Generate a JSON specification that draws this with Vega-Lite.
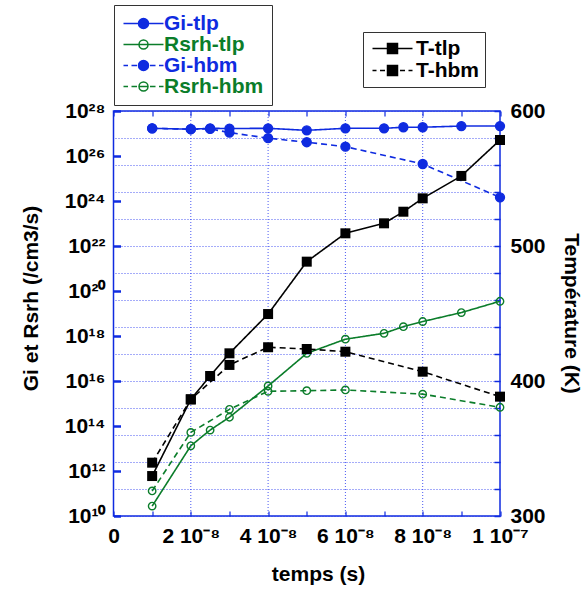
{
  "$schema": "https://vega.github.io/schema/vega-lite/v6.json",
  "width": 386.5,
  "height": 405,
  "autosize": "none",
  "padding": {"left": 113.5, "top": 111, "right": 83, "bottom": 76},
  "background": "white",
  "datasets": {
    "timegrid": [{"gx": 2e-8}, {"gx": 4e-8}, {"gx": 6e-8}, {"gx": 8e-8}],
    "rates": [
      {"t": 1e-8, "series": "Gi-tlp", "quantity": "Gi", "model": "tlp", "value": 1.7e27},
      {"t": 2e-8, "series": "Gi-tlp", "quantity": "Gi", "model": "tlp", "value": 1.55e27},
      {"t": 2.5e-8, "series": "Gi-tlp", "quantity": "Gi", "model": "tlp", "value": 1.7e27},
      {"t": 3e-8, "series": "Gi-tlp", "quantity": "Gi", "model": "tlp", "value": 1.66e27},
      {"t": 4e-8, "series": "Gi-tlp", "quantity": "Gi", "model": "tlp", "value": 1.7e27},
      {"t": 5e-8, "series": "Gi-tlp", "quantity": "Gi", "model": "tlp", "value": 1.38e27},
      {"t": 6e-8, "series": "Gi-tlp", "quantity": "Gi", "model": "tlp", "value": 1.7e27},
      {"t": 7e-8, "series": "Gi-tlp", "quantity": "Gi", "model": "tlp", "value": 1.7e27},
      {"t": 7.5e-8, "series": "Gi-tlp", "quantity": "Gi", "model": "tlp", "value": 1.9e27},
      {"t": 8e-8, "series": "Gi-tlp", "quantity": "Gi", "model": "tlp", "value": 1.9e27},
      {"t": 9e-8, "series": "Gi-tlp", "quantity": "Gi", "model": "tlp", "value": 2.14e27},
      {"t": 1e-7, "series": "Gi-tlp", "quantity": "Gi", "model": "tlp", "value": 2.14e27},
      {"t": 1e-8, "series": "Rsrh-tlp", "quantity": "Rsrh", "model": "tlp", "value": 2.75e10},
      {"t": 2e-8, "series": "Rsrh-tlp", "quantity": "Rsrh", "model": "tlp", "value": 1.32e13},
      {"t": 2.5e-8, "series": "Rsrh-tlp", "quantity": "Rsrh", "model": "tlp", "value": 6.6e13},
      {"t": 3e-8, "series": "Rsrh-tlp", "quantity": "Rsrh", "model": "tlp", "value": 2.45e14},
      {"t": 4e-8, "series": "Rsrh-tlp", "quantity": "Rsrh", "model": "tlp", "value": 6.0e15},
      {"t": 5e-8, "series": "Rsrh-tlp", "quantity": "Rsrh", "model": "tlp", "value": 1.7e17},
      {"t": 6e-8, "series": "Rsrh-tlp", "quantity": "Rsrh", "model": "tlp", "value": 7.2e17},
      {"t": 7e-8, "series": "Rsrh-tlp", "quantity": "Rsrh", "model": "tlp", "value": 1.32e18},
      {"t": 7.5e-8, "series": "Rsrh-tlp", "quantity": "Rsrh", "model": "tlp", "value": 2.6e18},
      {"t": 8e-8, "series": "Rsrh-tlp", "quantity": "Rsrh", "model": "tlp", "value": 4.4e18},
      {"t": 9e-8, "series": "Rsrh-tlp", "quantity": "Rsrh", "model": "tlp", "value": 1.1e19},
      {"t": 1e-7, "series": "Rsrh-tlp", "quantity": "Rsrh", "model": "tlp", "value": 3.5e19},
      {"t": 1e-8, "series": "Gi-hbm", "quantity": "Gi", "model": "hbm", "value": 1.7e27},
      {"t": 2e-8, "series": "Gi-hbm", "quantity": "Gi", "model": "hbm", "value": 1.55e27},
      {"t": 2.5e-8, "series": "Gi-hbm", "quantity": "Gi", "model": "hbm", "value": 1.6e27},
      {"t": 3e-8, "series": "Gi-hbm", "quantity": "Gi", "model": "hbm", "value": 1.1e27},
      {"t": 4e-8, "series": "Gi-hbm", "quantity": "Gi", "model": "hbm", "value": 6.2e26},
      {"t": 5e-8, "series": "Gi-hbm", "quantity": "Gi", "model": "hbm", "value": 4.1e26},
      {"t": 6e-8, "series": "Gi-hbm", "quantity": "Gi", "model": "hbm", "value": 2.6e26},
      {"t": 8e-8, "series": "Gi-hbm", "quantity": "Gi", "model": "hbm", "value": 4.4e25},
      {"t": 1e-7, "series": "Gi-hbm", "quantity": "Gi", "model": "hbm", "value": 1.45e24},
      {"t": 1e-8, "series": "Rsrh-hbm", "quantity": "Rsrh", "model": "hbm", "value": 1.3e11},
      {"t": 2e-8, "series": "Rsrh-hbm", "quantity": "Rsrh", "model": "hbm", "value": 5.2e13},
      {"t": 3e-8, "series": "Rsrh-hbm", "quantity": "Rsrh", "model": "hbm", "value": 5.5e14},
      {"t": 4e-8, "series": "Rsrh-hbm", "quantity": "Rsrh", "model": "hbm", "value": 3.5e15},
      {"t": 5e-8, "series": "Rsrh-hbm", "quantity": "Rsrh", "model": "hbm", "value": 3.7e15},
      {"t": 6e-8, "series": "Rsrh-hbm", "quantity": "Rsrh", "model": "hbm", "value": 4.0e15},
      {"t": 8e-8, "series": "Rsrh-hbm", "quantity": "Rsrh", "model": "hbm", "value": 2.6e15},
      {"t": 1e-7, "series": "Rsrh-hbm", "quantity": "Rsrh", "model": "hbm", "value": 6.8e14}
    ],
    "temps": [
      {"t": 1e-8, "series": "T-tlp", "model": "tlp", "temp": 329.6},
      {"t": 2e-8, "series": "T-tlp", "model": "tlp", "temp": 386.4},
      {"t": 2.5e-8, "series": "T-tlp", "model": "tlp", "temp": 403.7},
      {"t": 3e-8, "series": "T-tlp", "model": "tlp", "temp": 420.5},
      {"t": 4e-8, "series": "T-tlp", "model": "tlp", "temp": 449.6},
      {"t": 5e-8, "series": "T-tlp", "model": "tlp", "temp": 488.4},
      {"t": 6e-8, "series": "T-tlp", "model": "tlp", "temp": 509.4},
      {"t": 7e-8, "series": "T-tlp", "model": "tlp", "temp": 516.8},
      {"t": 7.5e-8, "series": "T-tlp", "model": "tlp", "temp": 525.4},
      {"t": 8e-8, "series": "T-tlp", "model": "tlp", "temp": 535.3},
      {"t": 9e-8, "series": "T-tlp", "model": "tlp", "temp": 551.9},
      {"t": 1e-7, "series": "T-tlp", "model": "tlp", "temp": 578.5},
      {"t": 1e-8, "series": "T-hbm", "model": "hbm", "temp": 339.5},
      {"t": 2e-8, "series": "T-hbm", "model": "hbm", "temp": 386.4},
      {"t": 3e-8, "series": "T-hbm", "model": "hbm", "temp": 411.9},
      {"t": 4e-8, "series": "T-hbm", "model": "hbm", "temp": 425.0},
      {"t": 5e-8, "series": "T-hbm", "model": "hbm", "temp": 423.7},
      {"t": 6e-8, "series": "T-hbm", "model": "hbm", "temp": 421.7},
      {"t": 8e-8, "series": "T-hbm", "model": "hbm", "temp": 406.9},
      {"t": 1e-7, "series": "T-hbm", "model": "hbm", "temp": 388.4}
    ]
  },
  "layer": [
    {
      "data": {"name": "timegrid"},
      "mark": {"type": "rule", "color": "#2a3cf0", "strokeDash": [1, 2], "strokeWidth": 1, "opacity": 0.85},
      "encoding": {
        "x": {"field": "gx", "type": "quantitative", "axis": null}
      }
    },
    {
      "data": {"name": "rates"},
      "encoding": {
        "x": {
          "field": "t", "type": "quantitative",
          "scale": {"domain": [0, 1e-7], "nice": false, "zero": false},
          "axis": {
            "orient": "bottom",
            "title": "temps (s)",
            "titleX": 204.5, "titleY": 63, "titleAlign": "center", "titleBaseline": "middle", "titleAngle": 0,
            "tickValues": [0, 5e-9, 1e-8, 1.5e-8, 2e-8, 2.5e-8, 3e-8, 3.5e-8, 4e-8, 4.5e-8, 5e-8, 5.5e-8, 6e-8, 6.5e-8, 7e-8, 7.5e-8, 8e-8, 8.5e-8, 9e-8, 9.5e-8, 1e-7],
            "labelExpr": "abs(datum.value*5e7 - round(datum.value*5e7)) < 0.001 ? (round(datum.value*1e9) == 0 ? '0' : round(datum.value*1e9) == 100 ? '1 10⁻⁷' : round(datum.value*1e8) + ' 10⁻⁸') : ''",
            "grid": false,
            "offset": -5,
            "tickSize": 5,
            "tickWidth": 1.2,
            "labelPadding": 9
          }
        },
        "y": {
          "field": "value", "type": "quantitative",
          "scale": {"type": "log", "domain": [1e10, 1e28], "nice": false},
          "axis": {
            "orient": "left",
            "title": "Gi et Rsrh (/cm3/s)",
            "titleX": -89, "titleY": 187, "titleAlign": "center", "titleBaseline": "middle", "titleAngle": -90,
            "tickValues": [1e10,1e11,1e12,1e13,1e14,1e15,1e16,1e17,1e18,1e19,1e20,1e21,1e22,1e23,1e24,1e25,1e26,1e27,1e28],
            "labelExpr": "round(log(datum.value)/LN10) % 2 == 0 ? '10' + ['⁰','¹','²','³','⁴','⁵','⁶','⁷','⁸','⁹'][floor(round(log(datum.value)/LN10)/10)] + ['⁰','¹','²','³','⁴','⁵','⁶','⁷','⁸','⁹'][round(log(datum.value)/LN10) % 10] : ''",
            "grid": false,
            "offset": -7,
            "tickSize": 7,
            "tickWidth": 2.5,
            "labelPadding": 8.5
          }
        },
        "color": {
          "field": "series", "type": "nominal",
          "scale": {"domain": ["Gi-tlp", "Rsrh-tlp", "Gi-hbm", "Rsrh-hbm"], "range": ["#0f2be0", "#0b7d2a", "#0f2be0", "#0b7d2a"]},
          "legend": {
            "title": null,
            "orient": "none",
            "legendX": 0.5,
            "legendY": -106,
            "symbolSize": 100,
            "symbolStrokeWidth": 1.5,
            "symbolOffset": 11,
            "labelOffset": 10,
            "rowPadding": -2,
            "padding": 8,
            "strokeColor": "#333333",
            "fillColor": "white",
            "labelFont": "Liberation Sans",
            "labelFontSize": 21,
            "labelFontWeight": "bold",
            "encode": {
              "symbols": {
                "update": {
                  "shape": {"signal": "datum.value == 'Gi-tlp' ? 'M-4,0H4M1,0A1,1,0,1,1,-1,0A1,1,0,1,1,1,0Z' : datum.value == 'Rsrh-tlp' ? 'M-4,0H4M0.9,0A0.9,0.9,0,1,1,-0.9,0A0.9,0.9,0,1,1,0.9,0Z' : datum.value == 'Gi-hbm' ? 'M-4,0H-3.1M-2.4,0H-1.3M1.3,0H2.4M3.1,0H4M1,0A1,1,0,1,1,-1,0A1,1,0,1,1,1,0Z' : 'M-4,0H-3.1M-2.4,0H-1.3M1.3,0H2.4M3.1,0H4M-0.9,0H0.9M0.9,0A0.9,0.9,0,1,1,-0.9,0A0.9,0.9,0,1,1,0.9,0Z'"},
                  "fill": {"signal": "indexof(datum.value, 'Gi') == 0 ? '#0f2be0' : 'transparent'"},
                  "stroke": {"signal": "indexof(datum.value, 'Gi') == 0 ? '#0f2be0' : '#0b7d2a'"},
                  "strokeWidth": {"value": 1.5},
                  "opacity": {"value": 1}
                }
              },
              "labels": {
                "update": {
                  "fill": {"signal": "indexof(datum.value, 'Gi') == 0 ? '#0f2be0' : '#0b7d2a'"}
                }
              }
            }
          }
        }
      },
      "layer": [
        {
          "mark": {"type": "line", "strokeWidth": 1.6},
          "encoding": {
            "strokeDash": {"field": "model", "type": "nominal", "scale": {"domain": ["tlp", "hbm"], "range": [[1, 0], [6, 4]]}, "legend": null}
          }
        },
        {
          "mark": {"type": "point", "shape": "circle", "filled": false, "strokeWidth": 1.4, "opacity": 1},
          "encoding": {
            "fill": {"field": "quantity", "type": "nominal", "scale": {"domain": ["Gi", "Rsrh"], "range": ["#0f2be0", "transparent"]}, "legend": null},
            "size": {"field": "quantity", "type": "nominal", "scale": {"domain": ["Gi", "Rsrh"], "range": [80, 55]}, "legend": null}
          }
        }
      ]
    },
    {
      "data": {"name": "temps"},
      "encoding": {
        "x": {
          "field": "t", "type": "quantitative",
          "axis": {
            "orient": "top",
            "title": null,
            "labels": false,
            "grid": false,
            "tickValues": [0, 5e-9, 1e-8, 1.5e-8, 2e-8, 2.5e-8, 3e-8, 3.5e-8, 4e-8, 4.5e-8, 5e-8, 5.5e-8, 6e-8, 6.5e-8, 7e-8, 7.5e-8, 8e-8, 8.5e-8, 9e-8, 9.5e-8, 1e-7],
            "offset": -5,
            "tickSize": 5,
            "tickWidth": 1.2
          }
        },
        "y": {
          "field": "temp", "type": "quantitative",
          "scale": {"domain": [300, 600], "nice": false, "zero": false},
          "axis": {
            "orient": "right",
            "title": "Température (K)",
            "titleX": 76, "titleY": 202, "titleAlign": "center", "titleBaseline": "middle", "titleAngle": 90,
            "grid": true,
            "gridColor": "#2a3cf0",
            "gridDash": [1, 2],
            "gridWidth": 1,
            "gridOpacity": 0.85,
            "tickValues": [300, 316.6667, 333.3333, 350, 366.6667, 383.3333, 400, 416.6667, 433.3333, 450, 466.6667, 483.3333, 500, 516.6667, 533.3333, 550, 566.6667, 583.3333, 600],
            "labelExpr": "abs(datum.value/50 - round(datum.value/50)) < 0.001 ? format(round(datum.value), 'd') : ''",
            "offset": -6,
            "tickSize": 6,
            "tickWidth": 1.5,
            "labelPadding": 10
          }
        },
        "color": {
          "field": "series", "type": "nominal",
          "scale": {"domain": ["T-tlp", "T-hbm"], "range": ["black", "black"]},
          "legend": {
            "title": null,
            "orient": "none",
            "legendX": 249.5,
            "legendY": -79,
            "symbolSize": 100,
            "symbolStrokeWidth": 1.5,
            "symbolOffset": 13,
            "labelOffset": 13,
            "rowPadding": 0,
            "padding": 6,
            "strokeColor": "#333333",
            "fillColor": "white",
            "labelFont": "Liberation Sans",
            "labelFontSize": 21,
            "labelFontWeight": "bold",
            "labelColor": "black",
            "encode": {
              "symbols": {
                "update": {
                  "shape": {"signal": "datum.value == 'T-tlp' ? 'M-4,0H4M-1,-1H1V1H-1Z' : 'M-4,0H-3.2M-2.5,0H-1.5M1.5,0H2.5M3.2,0H4M-1,-1H1V1H-1Z'"},
                  "fill": {"value": "black"},
                  "stroke": {"value": "black"},
                  "strokeWidth": {"value": 1.5},
                  "opacity": {"value": 1}
                }
              }
            }
          }
        }
      },
      "layer": [
        {
          "mark": {"type": "line", "strokeWidth": 1.6},
          "encoding": {
            "strokeDash": {"field": "model", "type": "nominal", "scale": {"domain": ["tlp", "hbm"], "range": [[1, 0], [6, 4]]}, "legend": null}
          }
        },
        {
          "mark": {"type": "point", "shape": "square", "filled": true, "size": 100, "opacity": 1}
        }
      ]
    },
    {
      "data": {"name": "rates"},
      "mark": {"type": "point", "opacity": 0},
      "encoding": {
        "y": {
          "field": "value", "type": "quantitative",
          "scale": {"type": "log", "domain": [1e10, 1e28], "nice": false},
          "axis": {
            "orient": "left",
            "title": null,
            "labels": false,
            "grid": false,
            "domain": false,
            "tickValues": [2e10,3e10,4e10,5e10,6e10,7e10,8e10,9e10,2e11,3e11,4e11,5e11,6e11,7e11,8e11,9e11,2e12,3e12,4e12,5e12,6e12,7e12,8e12,9e12,2e13,3e13,4e13,5e13,6e13,7e13,8e13,9e13,2e14,3e14,4e14,5e14,6e14,7e14,8e14,9e14,2e15,3e15,4e15,5e15,6e15,7e15,8e15,9e15,2e16,3e16,4e16,5e16,6e16,7e16,8e16,9e16,2e17,3e17,4e17,5e17,6e17,7e17,8e17,9e17,2e18,3e18,4e18,5e18,6e18,7e18,8e18,9e18,2e19,3e19,4e19,5e19,6e19,7e19,8e19,9e19,2e20,3e20,4e20,5e20,6e20,7e20,8e20,9e20,2e21,3e21,4e21,5e21,6e21,7e21,8e21,9e21,2e22,3e22,4e22,5e22,6e22,7e22,8e22,9e22,2e23,3e23,4e23,5e23,6e23,7e23,8e23,9e23,2e24,3e24,4e24,5e24,6e24,7e24,8e24,9e24,2e25,3e25,4e25,5e25,6e25,7e25,8e25,9e25,2e26,3e26,4e26,5e26,6e26,7e26,8e26,9e26,2e27,3e27,4e27,5e27,6e27,7e27,8e27,9e27],
            "offset": -4,
            "tickSize": 4,
            "tickWidth": 1
          }
        }
      }
    }
  ],
  "resolve": {"scale": {"y": "independent", "color": "independent"}, "axis": {"x": "independent", "y": "independent"}},
  "config": {
    "font": "Liberation Sans",
    "view": {"stroke": "#0f2be0", "strokeWidth": 1.5},
    "axis": {
      "domain": false,
      "labelFont": "Liberation Sans",
      "labelFontSize": 21,
      "labelFontWeight": "bold",
      "labelColor": "black",
      "labelOverlap": false,
      "labelFlush": false,
      "labelBound": false,
      "titleFont": "Liberation Sans",
      "titleFontSize": 21,
      "titleFontWeight": "bold",
      "titleColor": "black",
      "tickColor": "#0f2be0"
    }
  }
}
